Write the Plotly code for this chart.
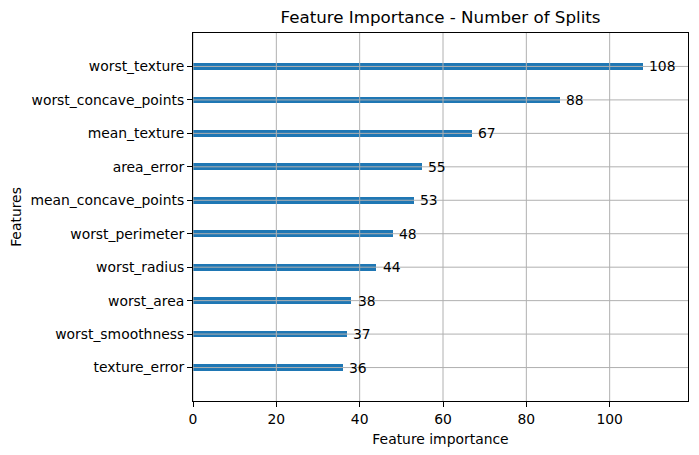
import plotly.graph_objects as go

features = ["texture_error", "worst_smoothness", "worst_area", "worst_radius",
            "worst_perimeter", "mean_concave_points", "area_error", "mean_texture",
            "worst_concave_points", "worst_texture"]
splits = [36, 37, 38, 44, 48, 53, 55, 67, 88, 108]
x_ticks = [0, 20, 40, 60, 80, 100]

FONT = "DejaVu Sans"
GRID = "#b0b0b0"
FS = 13.9
xmax = max(splits) * 1.1

fig = go.Figure()
fig.add_trace(go.Bar(
    x=splits, y=list(range(len(features))), orientation="h", width=0.2,
    marker=dict(color="#1f77b4", line=dict(width=0)), hoverinfo="skip",
))

shapes = []
for t in x_ticks:
    shapes.append(dict(type="line", xref="x", yref="paper", x0=t, x1=t, y0=0, y1=1,
                       line=dict(color=GRID, width=1), layer="above"))
for i in range(len(features)):
    shapes.append(dict(type="line", xref="paper", yref="y", x0=0, x1=1, y0=i, y1=i,
                       line=dict(color=GRID, width=1), layer="above"))

annotations = []
for i, v in enumerate(splits):
    annotations.append(dict(x=v + 1, y=i, xref="x", yref="y", text=str(v),
                            showarrow=False, xanchor="left", yanchor="middle",
                            font=dict(family=FONT, size=FS, color="black")))

fig.update_layout(
    width=699, height=455,
    margin=dict(l=185, r=19, t=24.5, b=61.5, autoexpand=False),
    paper_bgcolor="white", plot_bgcolor="white",
    font=dict(family=FONT, size=FS, color="black"),
    showlegend=False,
    title=dict(text="Feature Importance - Number of Splits", x=(185 + 495 / 2) / 699,
               xanchor="center", xref="container", y=1 - 9 / 455, yanchor="middle",
               yref="container", automargin=False,
               font=dict(family=FONT, size=16.7, color="black")),
    shapes=shapes, annotations=annotations,
    bargap=0,
)
fig.update_xaxes(
    range=[0, xmax], tickvals=x_ticks, ticktext=[str(t) for t in x_ticks],
    showgrid=False, zeroline=False, showline=True, linecolor="black", linewidth=1,
    mirror=True, ticks="outside", ticklen=5, tickcolor="black", automargin=False,
    title=dict(text="Feature importance", font=dict(family=FONT, size=FS), standoff=8),
)
fig.update_yaxes(
    range=[-1, len(features)], tickvals=list(range(len(features))), ticktext=features,
    showgrid=False, zeroline=False, showline=True, linecolor="black", linewidth=1,
    mirror=True, ticks="outside", ticklen=5, tickcolor="black", automargin=False,
    title=dict(text="Features", font=dict(family=FONT, size=FS), standoff=6),
)

fig.write_html("out.html")
